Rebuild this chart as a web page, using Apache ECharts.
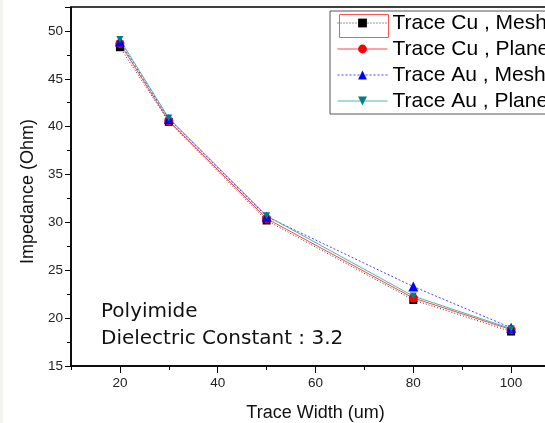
<!DOCTYPE html>
<html><head><meta charset="utf-8">
<script src="https://cdn.jsdelivr.net/npm/echarts@6/dist/echarts.min.js"></script>
<style>html,body{margin:0;padding:0;background:#fff;overflow:hidden;width:545px;height:423px}#c{width:565px;height:423px}</style>
</head><body><div id="c"></div>
<script>
const widths = [20, 30, 50, 80, 100];
const cuMesh = [48.3, 40.5, 30.2, 21.9, 18.6];
const cuPlane = [48.7, 40.6, 30.4, 22.1, 18.8];
const auMesh = [48.9, 40.8, 30.6, 23.3, 19.0];
const auPlane = [49.1, 40.9, 30.7, 22.3, 18.9];
const seriesNames = ['Trace Cu , Mesh', 'Trace Cu , Plane', 'Trace Au , Mesh', 'Trace Au , Plane'];
const xLabels = [20, 40, 60, 80, 100];

const pair = arr => widths.map((w, i) => [w, arr[i]]);
const font = 'Arial, "Liberation Sans", sans-serif';
const chart = echarts.init(document.getElementById('c'));
chart.setOption({
  animation: false,
  backgroundColor: '#fff',
  grid: { left: 71, top: 7, width: 489, height: 359, outerBoundsMode: 'none', containLabel: false,
    show: true, borderColor: '#000', borderWidth: 1.5 },
  xAxis: [{
    type: 'value', min: 10, max: 110, interval: 10,
    name: 'Trace Width (um)', nameLocation: 'middle', nameGap: 38,
    nameTextStyle: { fontSize: 18, color: '#111', fontFamily: font },
    axisLine: { lineStyle: { color: '#000', width: 1.5 } },
    axisTick: { length: 4, lineStyle: { color: '#000' } },
    axisLabel: { customValues: xLabels, fontSize: 13.5, color: '#222', margin: 10, fontFamily: font },
    splitLine: { show: false }
  }, {
    type: 'value', min: 10, max: 110, position: 'bottom',
    axisLine: { show: false },
    axisTick: { show: true, customValues: xLabels, length: 7, lineStyle: { color: '#000' } },
    axisLabel: { show: false },
    splitLine: { show: false }
  }],
  yAxis: {
    type: 'value', min: 15, max: 52.5, interval: 5,
    name: 'Impedance (Ohm)', nameLocation: 'middle', nameGap: 34,
    nameTextStyle: { fontSize: 18, color: '#111', fontFamily: font, padding: [0, 10, 0, 0] },
    axisLine: { show: true, lineStyle: { color: '#000', width: 1.5 } },
    axisTick: { length: 6, lineStyle: { color: '#000' } },
    minorTick: { show: true, splitNumber: 2, length: 4, lineStyle: { color: '#000' } },
    axisLabel: { fontSize: 13.5, color: '#222', margin: 8, fontFamily: font,
      formatter: v => (v % 5 === 0 ? String(v) : '') },
    splitLine: { show: false }
  },
  legend: {
    orient: 'vertical', left: 330, top: 11,
    padding: [1, 12, 2, 7], itemGap: 4, itemWidth: 50, itemHeight: 11,
    borderColor: '#555', borderWidth: 1, backgroundColor: '#fff',
    lineStyle: { width: 1 },
    textStyle: { fontSize: 21, color: '#000', fontFamily: font, lineHeight: 22 },
    data: seriesNames
  },
  graphic: [
    { type: 'rect', left: 0, top: 0, shape: { width: 3, height: 423 }, style: { fill: '#f2f2ee' }, silent: true },
    { type: 'rect', left: 337, top: 12, shape: { width: 49, height: 23 }, style: { fill: 'none', stroke: '#f55', lineWidth: 1 }, z: 100 },
    { type: 'text', left: 101, top: 302, style: { text: 'Polyimide', fontSize: 20, fill: '#111', fontFamily: '"DejaVu Sans", sans-serif' } },
    { type: 'text', left: 101, top: 329, style: { text: 'Dielectric Constant : 3.2', fontSize: 20, fill: '#111', fontFamily: '"DejaVu Sans", sans-serif' } }
  ],
  series: [
    { name: seriesNames[0], type: 'line', data: pair(cuMesh), symbol: 'rect', symbolSize: 8,
      itemStyle: { color: '#000' }, lineStyle: { color: '#333', width: 1, type: [1, 2] } },
    { name: seriesNames[1], type: 'line', data: pair(cuPlane), symbol: 'circle', symbolSize: 9,
      itemStyle: { color: '#f00' }, lineStyle: { color: '#f44', width: 1 } },
    { name: seriesNames[2], type: 'line', data: pair(auMesh), symbol: 'triangle', symbolSize: 10,
      itemStyle: { color: '#00f' }, lineStyle: { color: '#44f', width: 1, type: [2, 2] } },
    { name: seriesNames[3], type: 'line', data: pair(auPlane), symbol: 'triangle', symbolRotate: 180, symbolSize: 7,
      itemStyle: { color: '#008080' }, lineStyle: { color: '#4fb3b3', width: 1 } }
  ]
});
</script></body></html>
